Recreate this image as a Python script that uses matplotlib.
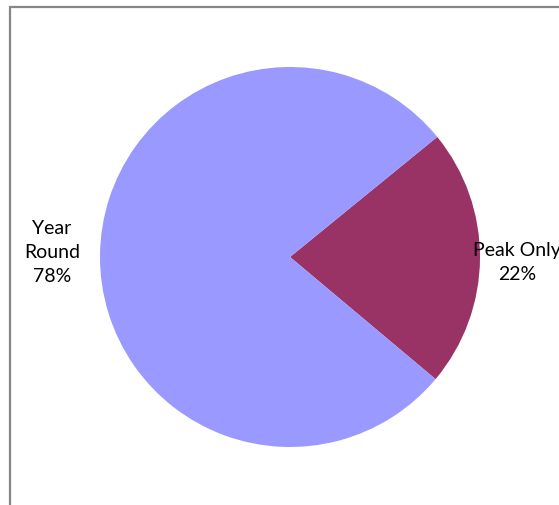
import numpy as np
import matplotlib.pyplot as plt
from matplotlib.patches import Rectangle

labels = ["Peak Only", "Year Round"]
shares = [22, 78]
colors = ["#993366", "#9999FF"]
label_dist = [1.195, 1.253]
label_dy = [-0.016, 0.02]

W, H = 559, 506
fig = plt.figure(figsize=(W / 100, H / 100), dpi=100)
fig.patch.set_facecolor("white")

# chart area border, clipped by the figure at the right and bottom
fig.add_artist(Rectangle((9.5 / W, -0.1), 1.2, 1.1 - 7.5 / H,
                         transform=fig.transFigure, fill=False,
                         edgecolor="#868686", linewidth=1.6))

cx, cy, r = 290, 258, 190
ax = fig.add_axes([(cx - r) / W, (H - cy - r) / H, 2 * r / W, 2 * r / H])
ax.axis("off")

wedges, _ = ax.pie(shares, colors=colors, startangle=-40, radius=1,
                   counterclock=True, frame=False)
ax.set_xlim(-1, 1)
ax.set_ylim(-1, 1)

for w, lab, pct, d, dy in zip(wedges, labels, shares, label_dist, label_dy):
    mid = np.deg2rad((w.theta1 + w.theta2) / 2)
    txt = lab.replace(" Round", "\nRound") + "\n%d%%" % pct
    ax.text(d * np.cos(mid), d * np.sin(mid) + dy, txt,
            ha="center", va="center", fontsize=14, family=["Lato", "DejaVu Sans"],
            linespacing=1.5, color="black", clip_on=False)

fig.savefig("out.png", dpi=100)
